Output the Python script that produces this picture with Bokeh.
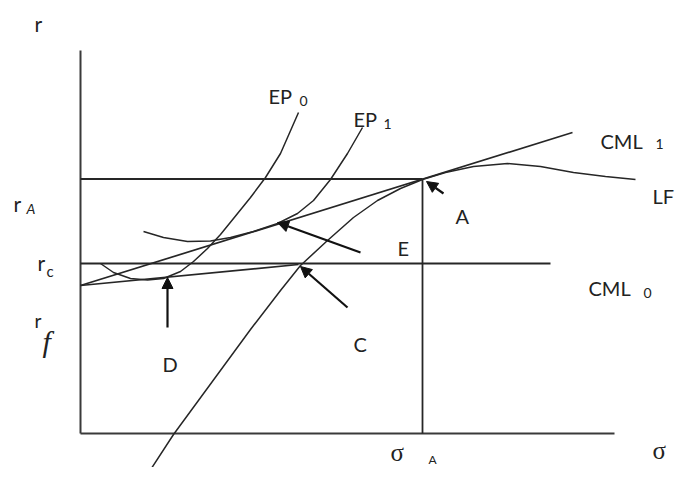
from bokeh.plotting import figure
from bokeh.models import Arrow, NormalHead, ColumnDataSource, Range1d
from bokeh.embed import file_html
from bokeh.resources import INLINE
from bokeh.core.properties import value

# ---------------- data (sigma, r) ----------------
r_f = 2.96
r_c = 3.40
r_A = 5.09
sigma_A = 6.84
sigma_C = 4.36
r_C = 3.38
sigma_axis_end = 10.68
r_axis_end = 7.66
rc_line_end = 9.40
cml1_sigma_end = 9.84
cml1_r_end = 6.02

# LF frontier
lf_sigma = [1.30, 1.86, 2.74, 3.40, 4.00, 4.40, 4.94, 5.46, 5.94, 6.40, 6.84,
            7.30, 7.86, 8.54, 9.20, 9.86, 10.50, 11.10]
lf_r = [-0.88, -0.02, 1.18, 2.08, 2.86, 3.36, 3.86, 4.32, 4.66, 4.90, 5.08,
        5.22, 5.34, 5.40, 5.34, 5.22, 5.14, 5.08]

# EP0 indifference curve
ep0_sigma = [0.40, 0.66, 1.00, 1.34, 1.66, 2.00, 2.26, 2.54, 2.80, 3.06, 3.40,
             3.70, 4.00, 4.36]
ep0_r = [3.40, 3.22, 3.10, 3.07, 3.10, 3.24, 3.44, 3.70, 3.98, 4.30, 4.72,
         5.12, 5.60, 6.42]

# EP1 indifference curve
ep1_sigma = [1.26, 1.66, 2.14, 2.60, 3.00, 3.46, 3.94, 4.34, 4.66, 5.00, 5.34, 5.64]
ep1_r = [4.04, 3.92, 3.84, 3.85, 3.92, 4.04, 4.20, 4.40, 4.66, 5.08, 5.60, 6.12]

# pointer arrows: tail -> tip
arrow_names = ["A", "mid", "C", "D"]
arrow_tail_sigma = [7.26, 5.60, 5.34, 1.74]
arrow_tail_r = [4.80, 3.62, 2.52, 2.12]
arrow_tip_sigma = [6.92, 3.94, 4.40, 1.74]
arrow_tip_r = [5.04, 4.22, 3.34, 3.12]

# ---------------- figure ----------------
INK = "#262626"
TXT = "#222222"
p = figure(width=675, height=467, output_backend="svg", toolbar_location=None,
           x_range=Range1d(-1.60, 11.90), y_range=Range1d(-0.68, 8.66),
           min_border=0)
p.axis.visible = False
p.grid.visible = False
p.outline_line_color = None
p.background_fill_color = "white"
p.border_fill_color = "white"

# axes
p.line([0, 0], [r_axis_end, 0], line_color="#3a3a3a", line_width=2)
p.line([0, sigma_axis_end], [0, 0], line_color="#3a3a3a", line_width=2)

# guide lines
p.line([0, sigma_A], [r_A, r_A], line_color=INK, line_width=1.8)
p.line([sigma_A, sigma_A], [r_A, 0], line_color=INK, line_width=1.8)
p.line([0, rc_line_end], [r_c, r_c], line_color=INK, line_width=1.8)

# CML0 and CML1
p.line([0, sigma_C], [r_f, r_C], line_color=INK, line_width=1.7)
p.line([0, cml1_sigma_end], [r_f, cml1_r_end], line_color=INK, line_width=1.7)

# curves
p.line(lf_sigma, lf_r, line_color=INK, line_width=1.5, line_join="round")
p.line(ep0_sigma, ep0_r, line_color=INK, line_width=1.5, line_join="round")
p.line(ep1_sigma, ep1_r, line_color=INK, line_width=1.5, line_join="round")

# arrows
asrc = ColumnDataSource(dict(x0=arrow_tail_sigma, y0=arrow_tail_r,
                             x1=arrow_tip_sigma, y1=arrow_tip_r))
p.add_layout(Arrow(source=asrc, x_start="x0", y_start="y0", x_end="x1", y_end="y1",
                   line_color="#111111", line_width=2.2,
                   end=NormalHead(size=11, fill_color="#111111", line_color="#111111",
                                  line_width=1)))

# ---------------- labels ----------------
def label(x, y, t, size, font="Lato", style="normal", align="left"):
    p.text(x=[x], y=[y], text=[t], text_font=value(font), text_font_size=size,
           text_font_style=style, text_color=TXT, text_baseline="alphabetic",
           text_align=align)

label(-0.92, 8.20, "r", "21px")
label(-1.34, 4.60, "r", "21px")
label(-1.08, 4.50, "A", "14px", style="italic")
label(-0.86, 3.42, "r", "21px")
label(-0.68, 3.26, "c", "15px")
label(-0.92, 2.26, "r", "19px")
label(-0.76, 1.84, "f", "30px", font="Liberation Serif", style="italic")

label(3.76, 6.76, "EP", "20px")
label(4.38, 6.66, "0", "14px")
label(5.46, 6.30, "EP", "20px")
label(6.06, 6.20, "1", "14px")
label(10.40, 5.86, "CML", "20px")
label(11.50, 5.80, "1", "14px")
label(11.44, 4.76, "LF", "20px")
label(10.16, 2.92, "CML", "20px")
label(11.26, 2.82, "0", "14px")

label(7.50, 4.36, "A", "20px")
label(6.34, 3.72, "E", "20px")
label(5.46, 1.80, "C", "20px")
label(1.64, 1.40, "D", "20px")

label(11.44, -0.34, "σ", "25px", font="Liberation Serif")
label(6.20, -0.38, "σ", "25px", font="Liberation Serif")
label(6.96, -0.52, "A", "12px")

open("out.html", "w").write(file_html(p, INLINE))
